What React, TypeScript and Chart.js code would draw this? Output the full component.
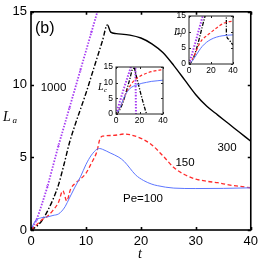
import React, { useEffect, useRef } from "react";
import { Chart, registerables } from "chart.js";

Chart.register(...registerables);

// ---------- Main panel data (L_a vs t) ----------
const pe1000T = [0, 1, 2, 3, 4, 5, 6, 7, 8, 9, 10, 11, 12, 12.6];
const pe1000L = [0, 0.7, 1.8, 3.0, 4.4, 5.8, 7.1, 8.4, 9.7, 11.0, 12.3, 13.6, 14.9, 15.7];

const pe300T = [0, 1, 2, 3, 4, 5, 6, 7, 8, 9, 10, 11, 12, 13, 13.9, 14.5, 15.5, 18, 20, 22, 24, 26, 28, 30, 32, 34, 36, 38, 40];
const pe300L = [0, 0.25, 0.65, 1.3, 2.1, 3.1, 4.5, 6.0, 7.2, 8.3, 9.4, 10.6, 11.8, 13.0, 14.1, 13.6, 13.5, 13.4, 13.2, 12.8, 12.2, 11.3, 10.3, 9.3, 8.5, 7.9, 7.3, 6.7, 6.1];

const pe150T = [0, 1, 2, 3, 4, 5, 5.8, 6.5, 7.2, 8, 9, 10, 11, 12, 12.5, 13, 15, 17, 18, 20, 22, 24, 26, 28, 30, 32, 34, 36, 38, 40];
const pe150L = [0, 0.35, 0.7, 0.95, 1.35, 1.9, 2.7, 2.0, 2.8, 3.2, 3.5, 3.9, 4.6, 5.4, 6.2, 6.45, 6.5, 6.6, 6.55, 6.3, 5.85, 5.1, 4.3, 3.8, 3.5, 3.35, 3.25, 3.1, 3.0, 2.9];

const pe100T = [0, 0.5, 1, 2, 3, 4, 5, 5.6, 6.2, 7, 8, 9, 10, 11, 12, 12.5, 13, 14.4, 16, 17, 18, 19, 20.5, 22, 23, 26, 30, 35, 40];
const pe100L = [0, 0.45, 0.7, 0.85, 0.9, 1.0, 1.1, 1.3, 1.6, 2.2, 2.95, 3.65, 4.5, 5.15, 5.55, 5.6, 5.55, 5.3, 5.0, 4.7, 4.25, 3.8, 3.4, 3.15, 3.05, 2.88, 2.85, 2.86, 2.9];

// ---------- Inset 1 data (L_c vs t) ----------
const cPurpleT = [0, 3, 6, 9, 12, 13.5, 16.3, 16.8, 17];
const cPurpleL = [0, 3.6, 7.3, 10.8, 14.2, 16, 16, 7, 0];
const cBlackT = [0, 2, 4, 6, 8, 10, 12, 14, 15.5, 17, 19, 21, 23, 25, 26];
const cBlackL = [0, 0.6, 2, 3.8, 6.2, 8.8, 11.5, 14.3, 14.6, 12.5, 9.6, 6.6, 3.8, 1.2, 0];
const cRedT = [0, 2, 4, 6, 8, 10, 12, 15, 18, 22, 26, 30, 35, 40];
const cRedL = [0, 1.0, 2.6, 4.4, 6.2, 7.8, 9.0, 10.5, 11.5, 12.4, 13.0, 13.5, 13.9, 14.2];
const cBlueT = [0, 2, 4, 6, 8, 10, 12, 15, 18, 22, 26, 30, 35, 40];
const cBlueL = [0, 1.0, 2.6, 4.5, 6.2, 7.3, 8.2, 8.9, 9.3, 9.8, 10.1, 10.4, 10.6, 10.8];

// ---------- Inset 2 data (L_l vs t) ----------
const lPurpleT = [0, 3, 6, 9, 12, 13.5];
const lPurpleL = [0, 3.4, 7.0, 10.7, 14.4, 16.2];
const lBlackT = [0, 2, 4, 6, 8, 10, 12, 14, 15.5, 20, 30, 33.9, 34, 36, 38, 40];
const lBlackL = [0, 0.6, 1.8, 3.8, 6.2, 8.8, 11.6, 14.2, 16, 18, 18, 17, 9.2, 7.8, 6.8, 6.0];
const lRedT = [0, 3, 6, 9, 12, 16, 20, 24, 28, 32, 36, 40];
const lRedL = [0, 1.4, 3.6, 6.0, 7.6, 8.8, 9.9, 11.0, 12.0, 12.8, 13.2, 13.4];
const lBlueT = [0, 3, 6, 9, 12, 16, 20, 25, 30, 35, 40];
const lBlueL = [0, 1.0, 2.5, 4.1, 5.5, 6.8, 7.7, 8.4, 8.8, 9.0, 9.1];

// ---------- Axis / label text ----------
const mainXTicks = [0, 10, 20, 30, 40];
const mainYTicks = [0, 5, 10, 15];
const insetXTicks = [0, 20, 40];
const insetYTicks = [0, 5, 10, 15];
const curveLabels = ["1000", "300", "150", "Pe=100"];
const panelLabel = "(b)";

const PURPLE = "#a63cf2";
const BLACK = "#000000";
const RED = "#ff2b2b";
const BLUE = "#5d76ff";
const SANS = '"Liberation Sans", Arial, sans-serif';
const SERIF = '"Liberation Serif", "Times New Roman", serif';

type Area = { left: number; top: number; right: number; bottom: number };

function ds(t: number[], v: number[], color: string, width: number, dash: number[], extra: any = {}) {
  return {
    data: t.map((x, i) => ({ x, y: v[i] })),
    borderColor: color,
    backgroundColor: color,
    borderWidth: width,
    borderDash: dash,
    pointRadius: 0,
    fill: false,
    cubicInterpolationMode: "monotone",
    ...extra,
  };
}

function decoPlugin(tickLen: number, lw: number, color: string, xTicks: number[], yTicks: number[], draw: (ctx: CanvasRenderingContext2D) => void) {
  return {
    id: "deco",
    afterDraw(chart: any) {
      const { ctx, chartArea: a, scales } = chart;
      ctx.save();
      ctx.strokeStyle = color;
      ctx.lineWidth = lw;
      ctx.beginPath();
      xTicks.forEach((v) => {
        const px = Math.round(scales.x.getPixelForValue(v)) + 0.5;
        ctx.moveTo(px, a.bottom);
        ctx.lineTo(px, a.bottom - tickLen);
        ctx.moveTo(px, a.top);
        ctx.lineTo(px, a.top + tickLen);
      });
      yTicks.forEach((v) => {
        const py = Math.round(scales.y.getPixelForValue(v)) + 0.5;
        ctx.moveTo(a.left, py);
        ctx.lineTo(a.left + tickLen, py);
        ctx.moveTo(a.right, py);
        ctx.lineTo(a.right - tickLen, py);
      });
      ctx.stroke();
      ctx.strokeRect(a.left, a.top, a.right - a.left, a.bottom - a.top);
      ctx.fillStyle = "#000";
      draw(ctx);
      ctx.restore();
    },
  };
}

function baseOptions(area: Area, W: number, H: number, xTicks: number[], yTicks: number[], fontSize: number, xPad: number, yPad: number) {
  return {
    responsive: false,
    maintainAspectRatio: false,
    animation: false,
    devicePixelRatio: 1,
    layout: { padding: { left: 0, top: area.top, right: W - area.right, bottom: 0 } },
    plugins: { legend: { display: false }, tooltip: { enabled: false } },
    elements: { line: { tension: 0.4 } },
    scales: {
      x: {
        type: "linear",
        min: xTicks[0],
        max: xTicks[xTicks.length - 1],
        grid: { display: false, drawTicks: false },
        border: { display: false },
        afterBuildTicks: (s: any) => { s.ticks = xTicks.map((value) => ({ value })); },
        ticks: { font: { family: SANS, size: fontSize }, color: "#000", padding: xPad, maxRotation: 0, autoSkip: false },
        afterFit: (s: any) => { s.height = H - area.bottom; },
      },
      y: {
        type: "linear",
        min: yTicks[0],
        max: yTicks[yTicks.length - 1],
        grid: { display: false, drawTicks: false },
        border: { display: false },
        afterBuildTicks: (s: any) => { s.ticks = yTicks.map((value) => ({ value })); },
        ticks: { font: { family: SANS, size: fontSize }, color: "#000", padding: yPad, autoSkip: false },
        afterFit: (s: any) => { s.width = area.left; },
      },
    },
  };
}

function ChartCanvas({ left, top, w, h, make }: { left: number; top: number; w: number; h: number; make: () => any }) {
  const ref = useRef<HTMLCanvasElement>(null);
  useEffect(() => {
    const c = new Chart(ref.current as HTMLCanvasElement, make());
    return () => c.destroy();
  }, []);
  return (
    <canvas
      ref={ref}
      width={w}
      height={h}
      style={{ position: "absolute", left, top, width: w, height: h }}
    />
  );
}

function makeMain() {
  const W = 262, H = 261;
  const area = { left: 31, top: 10, right: 251, bottom: 230 };
  const blackSeg = {
    segment: {
      borderDash: (c: any) => (c.p0.parsed.x >= 13.9 ? [] : [5, 2, 1.5, 2]),
    },
  };
  return {
    type: "line",
    data: {
      datasets: [
        ds(pe100T, pe100L, BLUE, 1, []),
        ds(pe150T, pe150L, RED, 1.3, [4, 2.5]),
        ds(pe300T, pe300L, BLACK, 1.4, [5, 2, 1.5, 2], blackSeg),
        ds(pe1000T, pe1000L, PURPLE, 1.8, [1.5, 1.5], {
          pointRadius: (c: any) => (c.dataIndex % 2 === 1 ? 1.3 : 0),
          pointStyle: "crossRot",
          pointBorderWidth: 1,
          borderDash: [1.5, 1.5],
        }),
      ],
    },
    options: baseOptions(area, W, H, mainXTicks, mainYTicks, 13, 4, 4),
    plugins: [
      decoPlugin(3, 1.6, "#000", mainXTicks, mainYTicks, (ctx) => {
        ctx.textBaseline = "alphabetic";
        ctx.textAlign = "left";
        ctx.font = `16px ${SANS}`;
        ctx.fillText(panelLabel, 35, 33);
        ctx.font = `11.5px ${SANS}`;
        ctx.textAlign = "center";
        ctx.textBaseline = "middle";
        ctx.fillText(curveLabels[0], 53.5, 88);
        ctx.fillText(curveLabels[1], 227, 148);
        ctx.fillText(curveLabels[2], 185, 162.5);
        ctx.fillText(curveLabels[3], 143, 199);
        // axis titles
        ctx.textAlign = "left";
        ctx.textBaseline = "alphabetic";
        ctx.font = `italic 14px ${SERIF}`;
        ctx.fillText("t", 138, 258);
        ctx.fillText("L", 3, 121);
        ctx.font = `italic 9px ${SERIF}`;
        ctx.fillText("a", 12.5, 122.5);
      }),
    ],
  };
}

function makeInset(area: Area, W: number, H: number, sets: any[], sub: string, lx: number, ly: number) {
  return {
    type: "line",
    data: { datasets: sets },
    options: baseOptions(area, W, H, insetXTicks, insetYTicks, 8.5, 2, 3),
    plugins: [
      {
        id: "bg",
        beforeDraw(chart: any) {
          const { ctx, chartArea: a } = chart;
          ctx.save();
          ctx.fillStyle = "#fff";
          ctx.fillRect(a.left, a.top, a.right - a.left, a.bottom - a.top);
          ctx.restore();
        },
      },
      decoPlugin(2, 1, "#222", insetXTicks, insetYTicks, (ctx) => {
        ctx.textAlign = "left";
        ctx.textBaseline = "alphabetic";
        ctx.font = `italic 10px ${SERIF}`;
        ctx.fillText("L", lx, ly);
        ctx.font = `italic 7px ${SERIF}`;
        ctx.fillText(sub, lx + 6, ly + 1.5);
      }),
    ],
  };
}

function makeInset1() {
  // canvas at (95, 58), 75 x 68
  const area = { left: 21, top: 9, right: 68, bottom: 56 };
  return makeInset(area, 75, 68, [
    ds(cBlueT, cBlueL, BLUE, 1, []),
    ds(cRedT, cRedL, RED, 1.2, [3, 2]),
    ds(cBlackT, cBlackL, BLACK, 1.3, [4, 1.5, 1.2, 1.5]),
    ds(cPurpleT, cPurpleL, PURPLE, 2, [1.5, 1.5]),
  ], "c", 3, 32);
}

function makeInset2() {
  // canvas at (164, 6), 76 x 70
  const area = { left: 25, top: 10, right: 69, bottom: 58 };
  return makeInset(area, 76, 70, [
    ds(lBlueT, lBlueL, BLUE, 1, []),
    ds(lRedT, lRedL, RED, 1.2, [3, 2]),
    ds(lBlackT, lBlackL, BLACK, 1.3, [4, 1.5, 1.2, 1.5]),
    ds(lPurpleT, lPurpleL, PURPLE, 2, [1.5, 1.5]),
  ], "l", 10, 29);
}

export default function App() {
  return (
    <div style={{ position: "absolute", left: 0, top: 0, width: 262, height: 261, background: "#fff" }}>
      <ChartCanvas left={0} top={0} w={262} h={261} make={makeMain} />
      <ChartCanvas left={95} top={58} w={75} h={68} make={makeInset1} />
      <ChartCanvas left={164} top={6} w={76} h={70} make={makeInset2} />
    </div>
  );
}
